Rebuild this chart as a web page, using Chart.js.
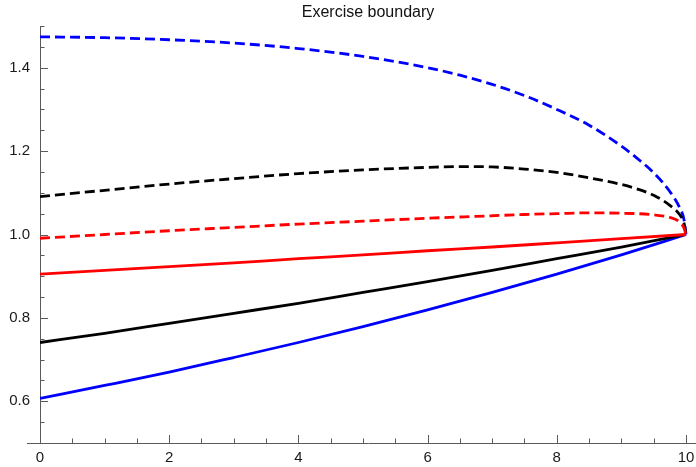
<!DOCTYPE html>
<html>
<head>
<meta charset="utf-8">
<script src="https://cdn.jsdelivr.net/npm/chart.js@4"></script>
<style>
  html, body { margin: 0; padding: 0; background: #fff; }
  #wrap { width: 696px; height: 467px; }
</style>
</head>
<body>
<div id="wrap"><canvas id="c"></canvas></div>
<script>
// ---- data ----
const titleText = 'Exercise boundary';
const solidX = [0, 1, 2, 3, 4, 5, 6, 7, 8, 9, 10];
const redSolid   = [0.905, 0.914, 0.923, 0.932, 0.942, 0.951, 0.961, 0.970, 0.980, 0.990, 1.000];
const blackSolid = [0.741, 0.763, 0.787, 0.811, 0.835, 0.861, 0.887, 0.914, 0.942, 0.970, 1.000];
const blueSolid  = [0.607, 0.638, 0.670, 0.705, 0.741, 0.779, 0.819, 0.861, 0.905, 0.951, 1.000];

const dashX = [0, 1, 2, 3, 4, 5, 6, 6.5, 7, 7.5, 8, 8.5, 9, 9.25, 9.5, 9.75, 9.9, 9.97, 10];
const blueDashed  = [1.474, 1.472, 1.467, 1.459, 1.446, 1.427, 1.400, 1.382, 1.360, 1.333, 1.300, 1.262, 1.212, 1.182, 1.148, 1.103, 1.065, 1.035, 1.000];
const blackDashed = [1.091, 1.106, 1.121, 1.134, 1.146, 1.155, 1.161, 1.163, 1.162, 1.157, 1.149, 1.136, 1.120, 1.109, 1.094, 1.070, 1.048, 1.027, 1.000];
const redDashed   = [0.991, 1.000, 1.009, 1.017, 1.025, 1.032, 1.039, 1.042, 1.045, 1.048, 1.050, 1.052, 1.051, 1.050, 1.047, 1.041, 1.030, 1.015, 1.000];

const xTickLabels = [0, 2, 4, 6, 8, 10];
const yTickLabels = [0.6, 0.8, 1.0, 1.2, 1.4];

// ---- helpers ----
const pts = (xs, ys) => xs.map((x, i) => ({ x: x, y: ys[i] }));
const AXIS = 'rgb(90,90,90)';
const LABEL = '#1a1a1a';
const FONT = 'Liberation Sans, Arial, sans-serif';

function ds(xs, ys, color, dashed) {
  return {
    data: pts(xs, ys),
    borderColor: color,
    backgroundColor: color,
    borderWidth: 2.8,
    borderDash: dashed ? [10, 5] : [],
    pointRadius: 0,
    fill: false,
    cubicInterpolationMode: 'monotone',
    borderCapStyle: 'butt'
  };
}

// inward Mathematica-style ticks + axis extension
const ticksPlugin = {
  id: 'inwardTicks',
  afterDraw(chart) {
    const { ctx, scales: { x, y } } = chart;
    const x0 = x.getPixelForValue(0);
    const yb = y.getPixelForValue(0.5);
    ctx.save();
    ctx.strokeStyle = AXIS;
    ctx.lineWidth = 1;
    ctx.beginPath();
    ctx.moveTo(27, yb + 0.5);
    ctx.lineTo(x0, yb + 0.5);
    for (let i = 1; i <= 20; i++) {
      const v = i * 0.5;
      const px = Math.round(x.getPixelForValue(v)) + 0.5;
      const major = i % 4 === 0;
      ctx.moveTo(px, yb);
      ctx.lineTo(px, yb - (major ? 8 : 4.5));
    }
    for (let j = 11; j <= 30; j++) {
      const v = j * 0.05;
      const py = Math.round(y.getPixelForValue(v)) + 0.5;
      const major = j % 4 === 0;
      ctx.moveTo(x0, py);
      ctx.lineTo(x0 + (major ? 8 : 4.5), py);
    }
    ctx.stroke();
    ctx.restore();
  }
};

new Chart(document.getElementById('c'), {
  type: 'line',
  data: {
    datasets: [
      ds(solidX, redSolid, '#ff0000', false),
      ds(solidX, blackSolid, '#000000', false),
      ds(solidX, blueSolid, '#0000ff', false),
      ds(dashX, redDashed, '#ff0000', true),
      ds(dashX, blackDashed, '#000000', true),
      ds(dashX, blueDashed, '#0000ff', true)
    ]
  },
  options: {
    responsive: true,
    maintainAspectRatio: false,
    animation: false,
    layout: { padding: 0 },
    plugins: {
      legend: { display: false },
      tooltip: { enabled: false },
      title: {
        display: true,
        fullSize: false,
        text: titleText,
        color: '#111',
        font: { family: FONT, size: 16, weight: 'normal', lineHeight: 1.2 },
        padding: { top: 3, bottom: 3.8 }
      }
    },
    scales: {
      x: {
        type: 'linear',
        min: 0,
        max: 10.155,
        grid: { display: false, drawTicks: false },
        border: { display: true, color: AXIS, width: 1 },
        afterBuildTicks(s) { s.ticks = xTickLabels.map(v => ({ value: v })); },
        afterFit(s) { s.paddingLeft = 0; s.paddingRight = 0; s.height = 24; },
        ticks: {
          color: LABEL,
          padding: 6,
          maxRotation: 0,
          font: { family: FONT, size: 15 },
          callback: v => String(v)
        }
      },
      y: {
        type: 'linear',
        min: 0.5,
        max: 1.5,
        grid: { display: false, drawTicks: false },
        border: { display: true, color: AXIS, width: 1 },
        afterBuildTicks(s) { s.ticks = yTickLabels.map(v => ({ value: v })); },
        afterFit(s) { s.width = 40; },
        ticks: {
          color: LABEL,
          padding: 10,
          font: { family: FONT, size: 15 },
          callback: v => Number(v).toFixed(1)
        }
      }
    }
  },
  plugins: [ticksPlugin]
});
</script>
</body>
</html>
